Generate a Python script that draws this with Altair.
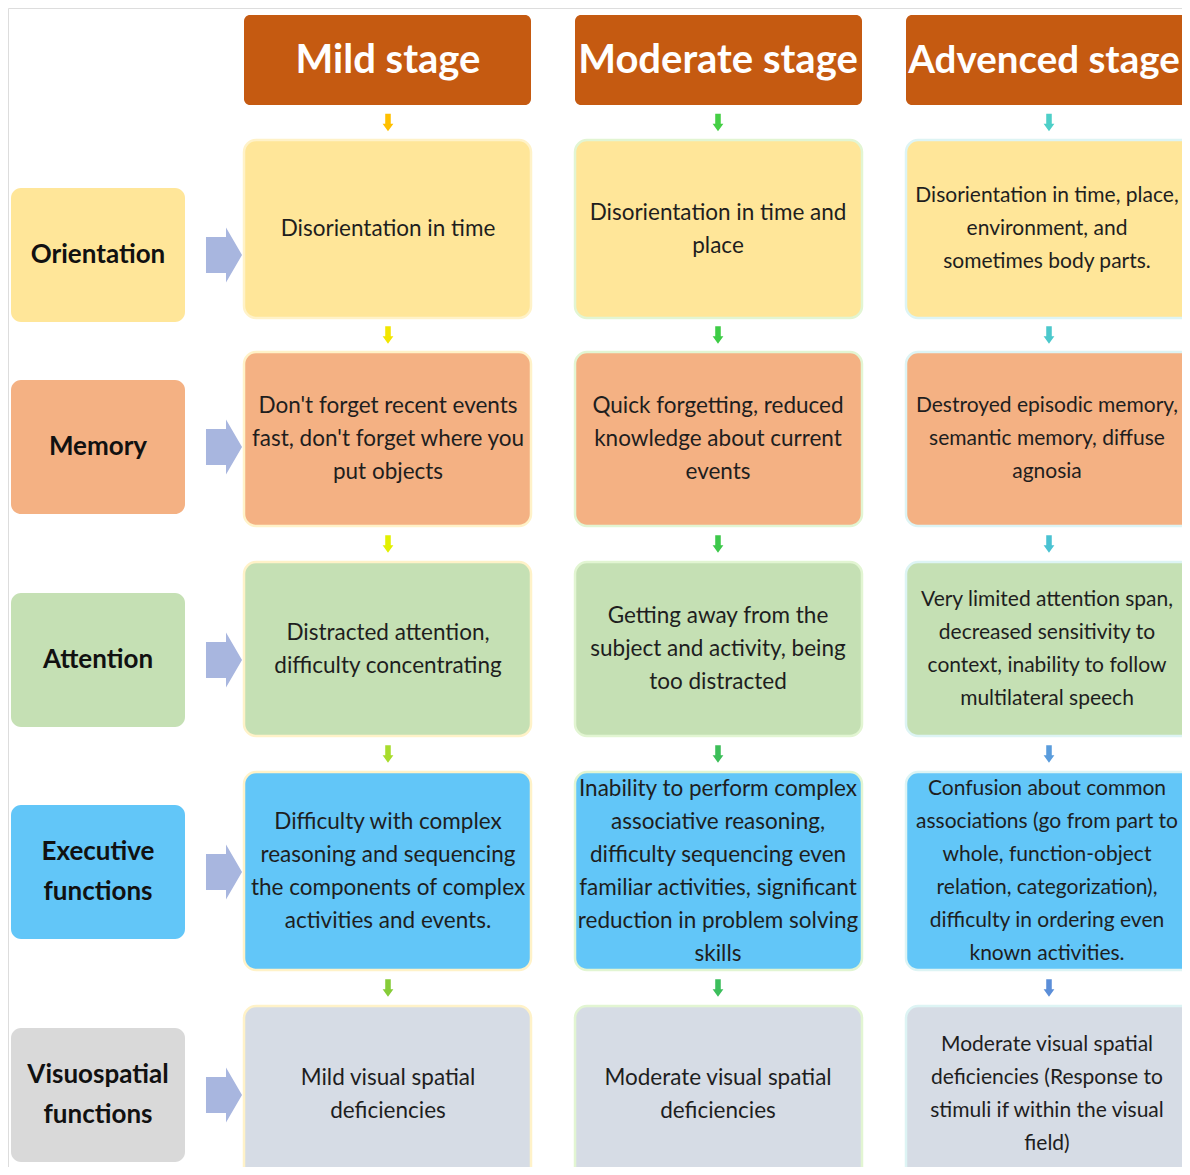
import altair as alt
import pandas as pd

# ---------------- data ----------------
stages = ["Mild stage", "Moderate stage", "Advenced stage"]
domains = ["Orientation", "Memory", "Attention", "Executive\nfunctions", "Visuospatial\nfunctions"]
domain_colors = ["#FFE699", "#F4B183", "#C5E0B4", "#62C6F8", "#D9D9D9"]
cell_colors = ["#FFE699", "#F4B183", "#C5E0B4", "#62C6F8", "#D6DCE5"]
header_color = "#C55A11"
block_arrow_color = "#A8B6DF"
column_border = ["#FFF2C8", "#E2F5D2", "#DDF4F4"]

descriptions = [
    ["Disorientation in time",
     "Disorientation in time and\nplace",
     "Disorientation in time, place,\nenvironment, and\nsometimes body parts."],
    ["Don't forget recent events\nfast, don't forget where you\nput objects",
     "Quick forgetting, reduced\nknowledge about current\nevents",
     "Destroyed episodic memory,\nsemantic memory, diffuse\nagnosia"],
    ["Distracted attention,\ndifficulty concentrating",
     "Getting away from the\nsubject and activity, being\ntoo distracted",
     "Very limited attention span,\ndecreased sensitivity to\ncontext, inability to follow\nmultilateral speech"],
    ["Difficulty with complex\nreasoning and sequencing\nthe components of complex\nactivities and events.",
     "Inability to perform complex\nassociative reasoning,\ndifficulty sequencing even\nfamiliar activities, significant\nreduction in problem solving\nskills",
     "Confusion about common\nassociations (go from part to\nwhole, function-object\nrelation, categorization),\ndifficulty in ordering even\nknown activities."],
    ["Mild visual spatial\ndeficiencies",
     "Moderate visual spatial\ndeficiencies",
     "Moderate visual spatial\ndeficiencies (Response to\nstimuli if within the visual\nfield)"],
]

# small connector arrow colours (one list per stage column, top to bottom)
connector_colors = [
    ["#FFC000", "#F2E600", "#E2F000", "#A8DC2C", "#86CC38"],
    ["#45CF45", "#3DCC45", "#3DC84A", "#3CBE58", "#3CBE5C"],
    ["#4ECFC8", "#4CC8CC", "#4AC2D2", "#5A9CDC", "#5B8ED8"],
]

# ---------------- layout (reference pixel frame) ----------------
col_x = [(244, 531), (575, 862), (906, 1193)]
text_cx = [388, 718, 1047]
text_size = [22.5, 22.5, 21]
header_cx = [388, 718, 1044]
header_size = [40, 40, 38.5]
header_y = (15, 105)
row_y = [(140, 318), (352, 526), (562, 736), (772, 970), (1006, 1182)]
label_cy = [255, 447, 660, 872, 1095]
label_x = (11, 185)
label_h = 134
arrow_x = 224
X0, X1, Y0, Y1 = 8, 1182, 8, 1167
CELL_LH = 33
LABEL_LH = 40

rects, texts, conns, blocks = [], [], [], []
for j, s in enumerate(stages):
    xa, xb = col_x[j]
    rects.append(dict(x=xa, x2=xb, y=header_y[0], y2=header_y[1], fill=header_color,
                      stroke=header_color, kind="header"))
    texts.append(dict(x=header_cx[j], y=(header_y[0] + header_y[1]) / 2 + 1,
                      t=s, kind="header", fs=header_size[j]))
    for i in range(len(domains)):
        ya, yb = row_y[i]
        rects.append(dict(x=xa, x2=xb, y=ya, y2=yb, fill=cell_colors[i],
                          stroke=column_border[j], kind="cell"))
        t = descriptions[i][j]
        n = t.count("\n") + 1
        cy = min((ya + yb) / 2, 1094)
        texts.append(dict(x=text_cx[j], y=cy - (n - 1) * CELL_LH / 2, t=t,
                          kind="cell", fs=text_size[j]))
        top = header_y[1] if i == 0 else row_y[i - 1][1]
        conns.append(dict(x=text_cx[j] + (2 if j == 2 else 0), y=(top + ya) / 2,
                          c=connector_colors[j][i]))

for i, d in enumerate(domains):
    cy = label_cy[i]
    rects.append(dict(x=label_x[0], x2=label_x[1], y=cy - label_h / 2, y2=cy + label_h / 2,
                      fill=domain_colors[i], stroke=domain_colors[i], kind="label"))
    n = d.count("\n") + 1
    texts.append(dict(x=(label_x[0] + label_x[1]) / 2, y=cy - (n - 1) * LABEL_LH / 2,
                      t=d, kind="label", fs=26))
    blocks.append(dict(x=arrow_x, y=cy))

rects = pd.DataFrame(rects)
texts = pd.DataFrame(texts)
conns = pd.DataFrame(conns)
blocks = pd.DataFrame(blocks)

xs = alt.Scale(domain=[X0, X1], nice=False, zero=False)
ys = alt.Scale(domain=[Y0, Y1], nice=False, zero=False, reverse=True)
FONT = "Lato"

def X(f="x"):
    return alt.X(f"{f}:Q", scale=xs, axis=None)

def Y(f="y"):
    return alt.Y(f"{f}:Q", scale=ys, axis=None)

base_r = alt.Chart(rects)
hdr = base_r.transform_filter("datum.kind == 'header'").mark_rect(
    cornerRadius=6, clip=True).encode(
    x=X(), x2="x2:Q", y=Y(), y2="y2:Q",
    color=alt.Color("fill:N", scale=None))
cells = base_r.transform_filter("datum.kind == 'cell'").mark_rect(
    cornerRadius=12, clip=True, strokeWidth=2.5).encode(
    x=X(), x2="x2:Q", y=Y(), y2="y2:Q",
    color=alt.Color("fill:N", scale=None),
    stroke=alt.Stroke("stroke:N", scale=None))
labels = base_r.transform_filter("datum.kind == 'label'").mark_rect(
    cornerRadius=10, clip=True).encode(
    x=X(), x2="x2:Q", y=Y(), y2="y2:Q",
    color=alt.Color("fill:N", scale=None))

block_path = "M -0.655 -0.655 L 0.073 -0.655 L 0.073 -1 L 0.655 0 L 0.073 1 L 0.073 0.655 L -0.655 0.655 Z"
block_arrows = alt.Chart(blocks).mark_point(
    shape=block_path, filled=True, size=3025, opacity=1, color=block_arrow_color,
    strokeWidth=0).encode(x=X(), y=Y())

conn_path = "M -0.32 -1 L 0.32 -1 L 0.32 0.15 L 0.62 0.15 L 0 1 L -0.62 0.15 L -0.32 0.15 Z"
connectors = alt.Chart(conns).mark_point(
    shape=conn_path, filled=True, size=300, opacity=1, strokeWidth=0).encode(
    x=X(), y=Y(), color=alt.Color("c:N", scale=None))

base_t = alt.Chart(texts)
hdr_text = base_t.transform_filter("datum.kind == 'header'").mark_text(
    font=FONT, fontWeight="bold", color="white", baseline="middle",
    align="center", clip=True).encode(x=X(), y=Y(), text="t:N",
                                      size=alt.Size("fs:Q", scale=None))
cell_text = base_t.transform_filter("datum.kind == 'cell'").mark_text(
    font=FONT, color="#1E1E1E", baseline="middle", align="center",
    lineBreak="\n", lineHeight=CELL_LH, clip=True).encode(
    x=X(), y=Y(), text="t:N", size=alt.Size("fs:Q", scale=None))
label_text = base_t.transform_filter("datum.kind == 'label'").mark_text(
    font=FONT, fontWeight="bold", color="#111111", baseline="middle",
    align="center", lineBreak="\n", lineHeight=LABEL_LH).encode(
    x=X(), y=Y(), text="t:N", size=alt.Size("fs:Q", scale=None))

chart = alt.layer(
    hdr, cells, labels, block_arrows, connectors, hdr_text, cell_text, label_text
).properties(
    width=X1 - X0, height=Y1 - Y0, padding=0,
    autosize=alt.AutoSizeParams(type="none"),
).configure_view(strokeWidth=0, stroke="transparent").configure(background="white")

chart.save("out.html", embed_options={"renderer": "svg", "actions": False})
